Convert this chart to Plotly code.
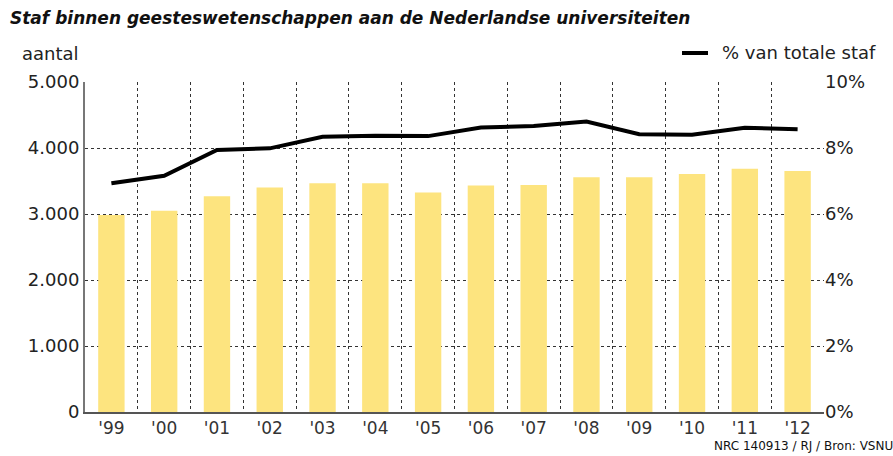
import plotly.graph_objects as go

years = ["'99", "'00", "'01", "'02", "'03", "'04", "'05", "'06", "'07", "'08", "'09", "'10", "'11", "'12"]
staff = [2985, 3050, 3270, 3400, 3465, 3465, 3325, 3430, 3440, 3555, 3555, 3605, 3685, 3650]
pct = [6.93, 7.16, 7.94, 7.99, 8.34, 8.37, 8.36, 8.62, 8.67, 8.80, 8.42, 8.40, 8.61, 8.57]

left_ticks = [0, 1000, 2000, 3000, 4000, 5000]
right_ticks = [0, 2, 4, 6, 8, 10]
right_labels = [f"{v}%" for v in right_ticks]

idx = list(range(len(years)))
boundaries = [i + 0.5 for i in idx]

W, H = 893, 456
L, R, T, B = 85, 69, 82, 44
PW, PH = W - L - R, H - T - B

FONT = "DejaVu Sans"
TXT = "#222222"

fig = go.Figure()
fig.add_trace(go.Bar(x=idx, y=staff, marker=dict(color="#FDE47F", line=dict(width=0)),
                     width=0.5, showlegend=False, yaxis="y", hoverinfo="skip"))
fig.add_trace(go.Scatter(x=idx, y=pct, mode="lines", line=dict(color="#000000", width=4),
                         name="% van totale staf", yaxis="y2", showlegend=False, hoverinfo="skip"))

fig.update_layout(
    width=W, height=H,
    margin=dict(l=L, r=R, t=T, b=B, autoexpand=False),
    paper_bgcolor="white", plot_bgcolor="white",
    separators=",.",
    font=dict(family=FONT, color=TXT, size=17),
    xaxis=dict(
        range=[-0.5, 13.5], tickmode="array", tickvals=idx, ticktext=years,
        showgrid=False, zeroline=False, showline=True, linecolor="#555555", linewidth=2,
        ticks="", tickfont=dict(size=17, color="#333333"),
        minor=dict(tickvals=boundaries, showgrid=True, griddash="dot",
                   gridcolor="#333333", gridwidth=1, ticks=""),
    ),
    yaxis=dict(
        range=[0, 5000], tickmode="array", tickvals=left_ticks, tickformat=",d",
        showgrid=True, gridcolor="#333333", griddash="dot", gridwidth=1,
        zeroline=False, showline=True, linecolor="#777777", linewidth=2,
        ticks="", tickfont=dict(size=18, color=TXT),
    ),
    yaxis2=dict(
        range=[0, 10], overlaying="y", side="right", tickmode="array",
        tickvals=right_ticks, ticktext=right_labels, showgrid=False, zeroline=False,
        showline=False, ticks="", tickfont=dict(size=18, color=TXT),
    ),
)

def px(xp):
    return (xp - L) / PW

def py(yp):
    return (H - B - yp) / PH

# Title
fig.add_annotation(text="<b><i>Staf binnen geesteswetenschappen aan de Nederlandse universiteiten</i></b>",
                   xref="paper", yref="paper", x=px(8), y=py(18),
                   xanchor="left", yanchor="middle", showarrow=False,
                   font=dict(size=17, color="#111111", family=FONT))
# Left axis label
fig.add_annotation(text="aantal", xref="paper", yref="paper", x=px(20), y=py(53),
                   xanchor="left", yanchor="middle", showarrow=False,
                   font=dict(size=18, color=TXT, family=FONT))
# Legend (line sample + text)
fig.add_annotation(text="% van totale staf", xref="paper", yref="paper", x=px(720), y=py(52),
                   xanchor="left", yanchor="middle", showarrow=False,
                   font=dict(size=18, color=TXT, family=FONT))
fig.add_shape(type="line", xref="paper", yref="paper",
              x0=px(682), x1=px(708), y0=py(53), y1=py(53),
              line=dict(color="black", width=4))
# Source
fig.add_annotation(text="NRC 140913 / RJ / Bron: VSNU", xref="paper", yref="paper",
                   x=px(712), y=py(446),
                   xanchor="left", yanchor="middle", showarrow=False,
                   font=dict(size=12, color="#111111", family=FONT))

fig.write_html("out.html", config={"displayModeBar": False},
               post_script="document.body.style.margin='0';document.body.style.padding='0';")
